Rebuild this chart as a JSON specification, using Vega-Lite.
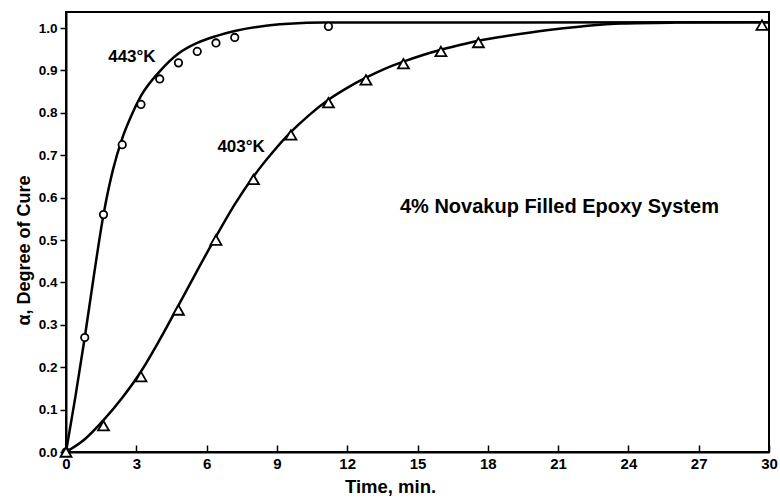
{
  "$schema": "https://vega.github.io/schema/vega-lite/v6.json",
  "autosize": {"type": "none"},
  "padding": {"left": 66, "top": 12, "right": 11, "bottom": 46},
  "width": 703,
  "height": 440,
  "background": "white",
  "config": {
    "view": {"stroke": "black", "strokeWidth": 2},
    "font": "Liberation Sans",
    "axis": {
      "grid": false,
      "domainColor": "black",
      "domainWidth": 2,
      "tickColor": "black",
      "tickWidth": 1.5,
      "labelColor": "black",
      "labelFont": "Liberation Sans",
      "labelFontWeight": "bold",
      "titleColor": "black",
      "titleFont": "Liberation Sans",
      "titleFontWeight": "bold"
    }
  },
  "datasets": {
    "points": [
      {"series": "443K", "time": 0, "alpha": 0},
      {"series": "443K", "time": 0.8, "alpha": 0.27},
      {"series": "443K", "time": 1.6, "alpha": 0.56},
      {"series": "443K", "time": 2.4, "alpha": 0.725},
      {"series": "443K", "time": 3.2, "alpha": 0.82},
      {"series": "443K", "time": 4.0, "alpha": 0.88},
      {"series": "443K", "time": 4.8, "alpha": 0.918},
      {"series": "443K", "time": 5.6, "alpha": 0.945},
      {"series": "443K", "time": 6.4, "alpha": 0.965},
      {"series": "443K", "time": 7.2, "alpha": 0.978},
      {"series": "443K", "time": 11.2, "alpha": 1.004},
      {"series": "403K", "time": 0, "alpha": 0},
      {"series": "403K", "time": 1.6, "alpha": 0.062},
      {"series": "403K", "time": 3.2, "alpha": 0.178},
      {"series": "403K", "time": 4.8, "alpha": 0.335},
      {"series": "403K", "time": 6.4, "alpha": 0.5},
      {"series": "403K", "time": 8.0, "alpha": 0.643},
      {"series": "403K", "time": 9.6, "alpha": 0.748},
      {"series": "403K", "time": 11.2, "alpha": 0.824},
      {"series": "403K", "time": 12.8, "alpha": 0.878},
      {"series": "403K", "time": 14.4, "alpha": 0.916},
      {"series": "403K", "time": 16.0, "alpha": 0.945},
      {"series": "403K", "time": 17.6, "alpha": 0.966},
      {"series": "403K", "time": 29.7, "alpha": 1.007}
    ],
    "curves": [
      {"series": "443K", "time": 0, "alpha": 0},
      {"series": "443K", "time": 0.4, "alpha": 0.13},
      {"series": "443K", "time": 0.8, "alpha": 0.27},
      {"series": "443K", "time": 1.2, "alpha": 0.42},
      {"series": "443K", "time": 1.6, "alpha": 0.56},
      {"series": "443K", "time": 2.0, "alpha": 0.665},
      {"series": "443K", "time": 2.4, "alpha": 0.74},
      {"series": "443K", "time": 2.8, "alpha": 0.795},
      {"series": "443K", "time": 3.2, "alpha": 0.84},
      {"series": "443K", "time": 4.0, "alpha": 0.898},
      {"series": "443K", "time": 4.8, "alpha": 0.94},
      {"series": "443K", "time": 5.6, "alpha": 0.965},
      {"series": "443K", "time": 6.4, "alpha": 0.981},
      {"series": "443K", "time": 7.2, "alpha": 0.993},
      {"series": "443K", "time": 8.3, "alpha": 1.004},
      {"series": "443K", "time": 9.5, "alpha": 1.01},
      {"series": "443K", "time": 11, "alpha": 1.013},
      {"series": "443K", "time": 30, "alpha": 1.014},
      {"series": "403K", "time": 0, "alpha": 0},
      {"series": "403K", "time": 0.8, "alpha": 0.03},
      {"series": "403K", "time": 1.6, "alpha": 0.075},
      {"series": "403K", "time": 2.4, "alpha": 0.128},
      {"series": "403K", "time": 3.2, "alpha": 0.19},
      {"series": "403K", "time": 4.0, "alpha": 0.265},
      {"series": "403K", "time": 4.8, "alpha": 0.346},
      {"series": "403K", "time": 5.6, "alpha": 0.428},
      {"series": "403K", "time": 6.4, "alpha": 0.508},
      {"series": "403K", "time": 7.2, "alpha": 0.584},
      {"series": "403K", "time": 8.0, "alpha": 0.65},
      {"series": "403K", "time": 8.8, "alpha": 0.706},
      {"series": "403K", "time": 9.6, "alpha": 0.755},
      {"series": "403K", "time": 10.4, "alpha": 0.796},
      {"series": "403K", "time": 11.2, "alpha": 0.831},
      {"series": "403K", "time": 12.0, "alpha": 0.859},
      {"series": "403K", "time": 12.8, "alpha": 0.883},
      {"series": "403K", "time": 13.6, "alpha": 0.904},
      {"series": "403K", "time": 14.4, "alpha": 0.921},
      {"series": "403K", "time": 15.2, "alpha": 0.936},
      {"series": "403K", "time": 16.0, "alpha": 0.949},
      {"series": "403K", "time": 16.8, "alpha": 0.96},
      {"series": "403K", "time": 17.6, "alpha": 0.97},
      {"series": "403K", "time": 19.0, "alpha": 0.983},
      {"series": "403K", "time": 20.5, "alpha": 0.995},
      {"series": "403K", "time": 22.0, "alpha": 1.004},
      {"series": "403K", "time": 23.7, "alpha": 1.011},
      {"series": "403K", "time": 26.0, "alpha": 1.013},
      {"series": "403K", "time": 30.0, "alpha": 1.014}
    ]
  },
  "layer": [
    {
      "data": {"name": "curves"},
      "mark": {"type": "line", "color": "black", "strokeWidth": 2.5, "interpolate": "monotone", "clip": true},
      "encoding": {
        "x": {
          "field": "time",
          "type": "quantitative",
          "scale": {"domain": [0, 30], "nice": false, "zero": false},
          "axis": {
            "title": "Time, min.",
            "values": [0, 3, 6, 9, 12, 15, 18, 21, 24, 27, 30],
            "format": "d",
            "tickSize": -7,
            "labelPadding": 11,
            "labelFontSize": 15,
            "labelFlush": false,
            "titleFontSize": 18.5,
            "titleX": 324,
            "titleY": 25,
            "titleAnchor": "middle"
          }
        },
        "y": {
          "field": "alpha",
          "type": "quantitative",
          "scale": {"domain": [0, 1.038], "nice": false},
          "axis": {
            "title": "α, Degree of Cure",
            "values": [0, 0.1, 0.2, 0.3, 0.4, 0.5, 0.6, 0.7, 0.8, 0.9, 1.0],
            "format": ".1f",
            "tickSize": 6,
            "labelPadding": 3,
            "labelFontSize": 13.5,
            "labelFlush": false,
            "titleFontSize": 18,
            "titleX": -33,
            "titleY": 238
          }
        },
        "detail": {"field": "series"}
      }
    },
    {
      "data": {"name": "points"},
      "mark": {"type": "point", "filled": true, "fill": "white", "stroke": "black", "strokeWidth": 1.8, "opacity": 1},
      "encoding": {
        "x": {"field": "time", "type": "quantitative"},
        "y": {"field": "alpha", "type": "quantitative"},
        "shape": {"field": "series", "type": "nominal", "scale": {"domain": ["443K", "403K"], "range": ["circle", "triangle-up"]}, "legend": null},
        "size": {"field": "series", "type": "nominal", "scale": {"domain": ["443K", "403K"], "range": [55, 120]}, "legend": null}
      }
    },
    {
      "data": {"values": [{}]},
      "mark": {"type": "text", "text": "443°K", "align": "left", "baseline": "middle", "fontSize": 17, "fontWeight": "bold", "fill": "black"},
      "encoding": {"x": {"datum": 1.8, "type": "quantitative"}, "y": {"datum": 0.932, "type": "quantitative"}}
    },
    {
      "data": {"values": [{}]},
      "mark": {"type": "text", "text": "403°K", "align": "left", "baseline": "middle", "fontSize": 17, "fontWeight": "bold", "fill": "black"},
      "encoding": {"x": {"datum": 6.46, "type": "quantitative"}, "y": {"datum": 0.72, "type": "quantitative"}}
    },
    {
      "data": {"values": [{}]},
      "mark": {"type": "text", "text": "4% Novakup Filled Epoxy System", "align": "left", "baseline": "middle", "fontSize": 20, "fontWeight": "bold", "fill": "black"},
      "encoding": {"x": {"datum": 14.25, "type": "quantitative"}, "y": {"datum": 0.579, "type": "quantitative"}}
    }
  ]
}
